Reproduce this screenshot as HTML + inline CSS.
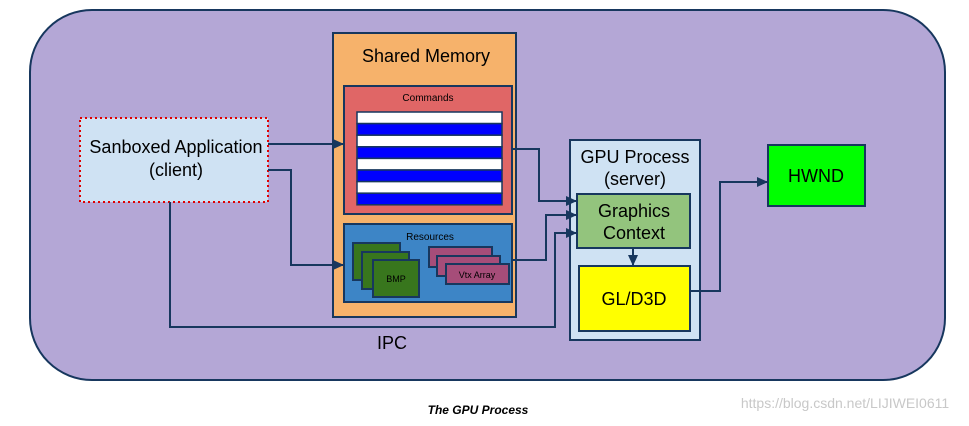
<!DOCTYPE html>
<html><head><meta charset="utf-8"><style>
body{margin:0;background:#fff;}
svg text{font-family:"Liberation Sans",sans-serif;}
</style></head><body>
<svg width="969" height="421" viewBox="0 0 969 421" xmlns="http://www.w3.org/2000/svg">
<defs><marker id="a" markerWidth="11" markerHeight="10" refX="10" refY="5" orient="auto" markerUnits="userSpaceOnUse"><path d="M0,0 L11,5 L0,10z" fill="#17375e"/></marker></defs>
<rect x="30" y="10" width="915" height="370" rx="62" fill="#b4a7d6" stroke="#17375e" stroke-width="2"/>
<rect x="333" y="33" width="183" height="284" fill="#f6b26b" stroke="#17375e" stroke-width="2"/>
<text x="426" y="62" font-size="18" text-anchor="middle">Shared Memory</text>
<rect x="344" y="86" width="168" height="128" fill="#e06666" stroke="#17375e" stroke-width="2"/>
<text x="428" y="101" font-size="10" text-anchor="middle">Commands</text>
<g stroke="#17375e" stroke-width="1.5">
<rect x="357" y="112" width="145" height="11.6" fill="#fff"/>
<rect x="357" y="123.6" width="145" height="11.6" fill="#0000ff"/>
<rect x="357" y="135.2" width="145" height="11.6" fill="#fff"/>
<rect x="357" y="146.8" width="145" height="11.6" fill="#0000ff"/>
<rect x="357" y="158.4" width="145" height="11.6" fill="#fff"/>
<rect x="357" y="170" width="145" height="11.6" fill="#0000ff"/>
<rect x="357" y="181.6" width="145" height="11.6" fill="#fff"/>
<rect x="357" y="193.2" width="145" height="11.6" fill="#0000ff"/>
</g>
<rect x="344" y="224" width="168" height="78" fill="#3d85c6" stroke="#17375e" stroke-width="2"/>
<text x="430" y="240" font-size="10" text-anchor="middle">Resources</text>
<g stroke="#17375e" stroke-width="2" fill="#38761d">
<rect x="353" y="243" width="47" height="37"/>
<rect x="362" y="252" width="47" height="37"/>
<rect x="373" y="260" width="46" height="37"/>
</g>
<text x="396" y="282" font-size="9" text-anchor="middle">BMP</text>
<g stroke="#17375e" stroke-width="2" fill="#a64d79">
<rect x="429" y="247" width="63" height="20"/>
<rect x="437" y="256" width="63" height="20"/>
<rect x="446" y="264" width="63" height="20"/>
</g>
<text x="477" y="278" font-size="9" text-anchor="middle">Vtx Array</text>
<rect x="80" y="118" width="188" height="84" fill="#cfe2f3" stroke="#e00000" stroke-width="2" stroke-dasharray="2,3"/>
<text x="176" y="153" font-size="18" text-anchor="middle">Sanboxed Application</text>
<text x="176" y="176" font-size="18" text-anchor="middle">(client)</text>
<rect x="570" y="140" width="130" height="200" fill="#cfe2f3" stroke="#17375e" stroke-width="2"/>
<text x="635" y="163" font-size="18" text-anchor="middle">GPU Process</text>
<text x="635" y="185" font-size="18" text-anchor="middle">(server)</text>
<rect x="577" y="194" width="113" height="54" fill="#93c47d" stroke="#17375e" stroke-width="2"/>
<text x="634" y="217" font-size="18" text-anchor="middle">Graphics</text>
<text x="634" y="239" font-size="18" text-anchor="middle">Context</text>
<rect x="579" y="266" width="111" height="65" fill="#ffff00" stroke="#17375e" stroke-width="2"/>
<text x="634" y="305" font-size="18" text-anchor="middle">GL/D3D</text>
<rect x="768" y="145" width="97" height="61" fill="#00ff00" stroke="#17375e" stroke-width="2"/>
<text x="816" y="182" font-size="18" text-anchor="middle">HWND</text>
<g fill="none" stroke="#17375e" stroke-width="2">
<path d="M268,144 H343" marker-end="url(#a)"/>
<path d="M268,170 H291 V265 H343" marker-end="url(#a)"/>
<path d="M170,202 V327 H555 V233 H576" marker-end="url(#a)"/>
<path d="M512,149 H539 V201 H576" marker-end="url(#a)"/>
<path d="M512,260 H546 V215 H576" marker-end="url(#a)"/>
<path d="M633,248 V265" marker-end="url(#a)"/>
<path d="M690,291 H720 V182 H767" marker-end="url(#a)"/>
</g>
<text x="392" y="349" font-size="18" text-anchor="middle">IPC</text>
<text x="478" y="414" font-size="12" font-weight="bold" font-style="italic" text-anchor="middle">The GPU Process</text>
<text x="845" y="408" font-size="14" fill="#c8c8c8" text-anchor="middle">https://blog.csdn.net/LIJIWEI0611</text>
</svg>
</body></html>
